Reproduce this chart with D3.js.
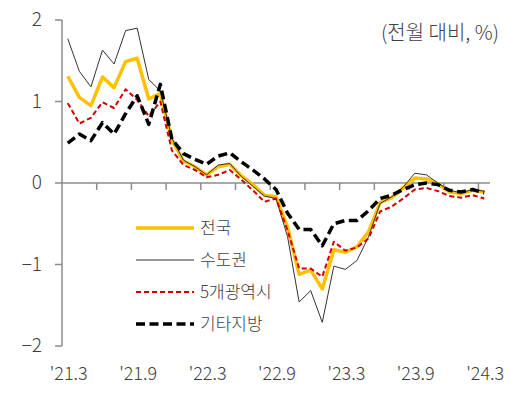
<!DOCTYPE html>
<html>
<head>
<meta charset="utf-8">
<script src="https://cdn.jsdelivr.net/npm/d3@7"></script>
<style>
  body { margin: 0; background: #fff; }
  text { font-family: "Noto Sans CJK KR", "Noto Sans", sans-serif; fill: #404040; font-weight: 300; }
</style>
</head>
<body>
<div id="chart"></div>
<script>
// months, 2021.3 ~ 2024.3
const months = ["21.3","21.4","21.5","21.6","21.7","21.8","21.9","21.10","21.11","21.12",
  "22.1","22.2","22.3","22.4","22.5","22.6","22.7","22.8","22.9","22.10","22.11","22.12",
  "23.1","23.2","23.3","23.4","23.5","23.6","23.7","23.8","23.9","23.10","23.11","23.12",
  "24.1","24.2","24.3"];
const tickLabels = ["'21.3","'21.9","'22.3","'22.9","'23.3","'23.9","'24.3"];
const yTicks = [2, 1, 0, -1, -2];

const nation   = [1.31,1.05,0.95,1.30,1.17,1.49,1.53,1.03,1.10,0.53,0.27,0.20,0.10,0.20,0.23,0.09,-0.02,-0.15,
  -0.17,-0.54,-1.12,-1.07,-1.30,-0.82,-0.85,-0.78,-0.60,-0.24,-0.18,-0.06,0.06,0.05,-0.01,-0.11,-0.13,-0.09,-0.11];
const capital  = [1.77,1.37,1.18,1.63,1.46,1.87,1.90,1.27,1.13,0.55,0.28,0.20,0.10,0.22,0.24,0.08,-0.04,-0.16,
  -0.19,-0.66,-1.46,-1.32,-1.71,-1.02,-1.06,-0.95,-0.66,-0.25,-0.17,-0.05,0.12,0.10,0.00,-0.09,-0.12,-0.08,-0.10];
const metro5   = [0.98,0.73,0.80,0.99,0.92,1.15,1.02,0.82,1.00,0.40,0.22,0.16,0.07,0.10,0.16,0.04,-0.09,-0.23,
  -0.19,-0.58,-1.05,-1.05,-1.15,-0.72,-0.83,-0.79,-0.68,-0.35,-0.29,-0.19,-0.08,-0.06,-0.10,-0.16,-0.18,-0.15,-0.19];
const others   = [0.49,0.60,0.52,0.74,0.60,0.85,1.07,0.72,1.21,0.54,0.36,0.29,0.23,0.33,0.37,0.26,0.16,0.05,
  -0.08,-0.37,-0.57,-0.57,-0.77,-0.50,-0.46,-0.46,-0.34,-0.19,-0.15,-0.08,-0.02,0.00,-0.02,-0.09,-0.11,-0.08,-0.12];

const series = [
  {name: "전국", values: nation, color: "#FFC000", width: 3.5, dash: null},
  {name: "수도권", values: capital, color: "#333333", width: 1, dash: null},
  {name: "5개광역시", values: metro5, color: "#D00000", width: 2, dash: "5,3"},
  {name: "기타지방", values: others, color: "#000000", width: 3.5, dash: "9,4.5"}
];

const W = 530, H = 399;
const svg = d3.select("#chart").append("svg")
  .attr("width", W).attr("height", H);

const x = d3.scaleBand().domain(months).range([62, 490]).paddingInner(0).paddingOuter(0);
const y = d3.scaleLinear().domain([-2, 2]).range([346, 20]);
const axisColor = "#8c8c8c";

// y axis
svg.append("line")
  .attr("x1", 62).attr("x2", 62)
  .attr("y1", y(2)).attr("y2", y(-2))
  .attr("stroke", axisColor).attr("stroke-width", 1.5);
yTicks.forEach(v => {
  svg.append("line")
    .attr("x1", 55).attr("x2", 62)
    .attr("y1", y(v)).attr("y2", y(v))
    .attr("stroke", axisColor).attr("stroke-width", 1.5);
  svg.append("text")
    .attr("x", 42).attr("y", y(v) + 6)
    .attr("text-anchor", "end")
    .style("font-size", "19px")
    .text(v < 0 ? "\u2212" + Math.abs(v) : v);
});

// x axis at zero
svg.append("line")
  .attr("x1", 62).attr("x2", 490)
  .attr("y1", y(0)).attr("y2", y(0))
  .attr("stroke", axisColor).attr("stroke-width", 1.5);
months.forEach((m, i) => {
  if (i > 0 && i % 3 == 0) {
    svg.append("line")
      .attr("x1", x(m)).attr("x2", x(m))
      .attr("y1", y(0)).attr("y2", y(0) + 7)
      .attr("stroke", axisColor).attr("stroke-width", 1.5);
  }
  if (i % 6 == 0) {
    svg.append("text")
      .attr("x", x(m) + x.bandwidth() / 2 + 1)
      .attr("y", 380)
      .attr("text-anchor", "middle")
      .style("font-size", "18px")
      .text(tickLabels[i / 6]);
  }
});

// lines
const line = d3.line()
  .x((d, i) => x(months[i]) + x.bandwidth() / 2)
  .y(d => y(d));

series.forEach(s => {
  svg.append("path")
    .datum(s.values)
    .attr("d", line)
    .attr("fill", "none")
    .attr("stroke", s.color)
    .attr("stroke-width", s.width)
    .attr("stroke-linejoin", "round")
    .attr("stroke-dasharray", s.dash);
});

// legend
series.forEach((s, i) => {
  const ly = 228 + i * 32;
  svg.append("line")
    .attr("x1", 136).attr("x2", 194)
    .attr("y1", ly).attr("y2", ly)
    .attr("stroke", s.color)
    .attr("stroke-width", s.width)
    .attr("stroke-dasharray", s.dash);
  svg.append("text")
    .attr("x", 200).attr("y", ly + 6)
    .style("font-size", "17px")
    .text(s.name);
});

// unit
svg.append("text")
  .attr("x", 499).attr("y", 40)
  .attr("text-anchor", "end")
  .style("font-size", "20px")
  .text("(전월 대비, %)");
</script>
</body>
</html>
